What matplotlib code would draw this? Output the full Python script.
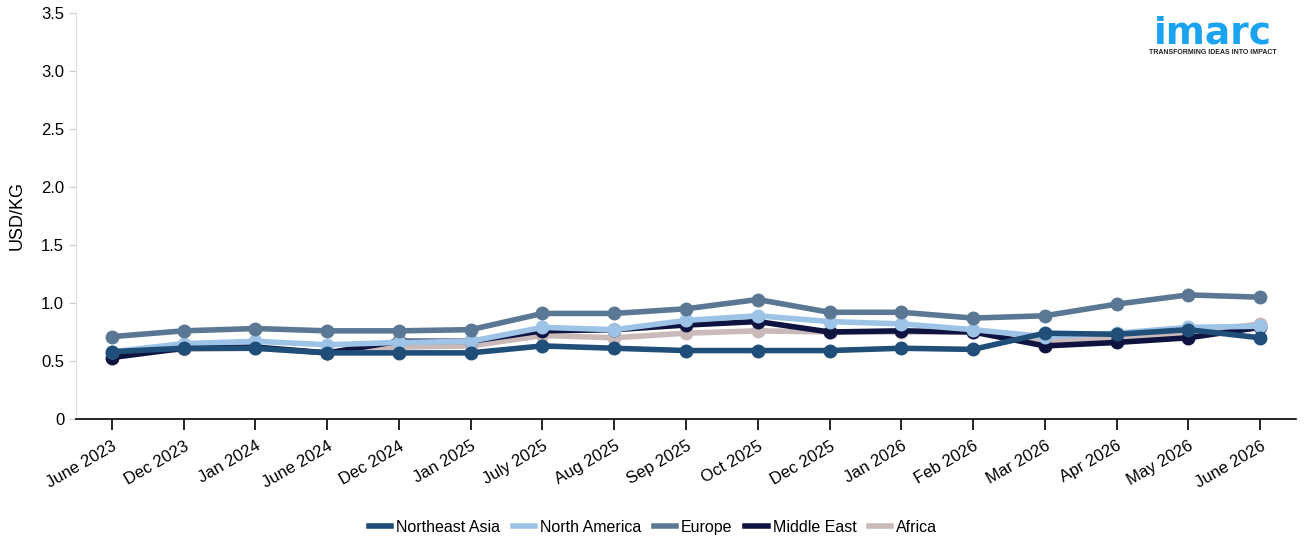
import matplotlib
matplotlib.use("Agg")
import matplotlib.pyplot as plt
import matplotlib.lines as mlines

months = ["June 2023", "Dec 2023", "Jan 2024", "June 2024", "Dec 2024", "Jan 2025",
          "July 2025", "Aug 2025", "Sep 2025", "Oct 2025", "Dec 2025", "Jan 2026",
          "Feb 2026", "Mar 2026", "Apr 2026", "May 2026", "June 2026"]

northeast_asia = [0.58, 0.61, 0.61, 0.57, 0.57, 0.57, 0.63, 0.61, 0.59, 0.59, 0.59, 0.61,
                  0.60, 0.74, 0.73, 0.77, 0.70]
north_america = [0.58, 0.65, 0.67, 0.64, 0.66, 0.67, 0.79, 0.77, 0.85, 0.89, 0.84, 0.82,
                 0.77, 0.71, 0.74, 0.79, 0.80]
europe = [0.71, 0.76, 0.78, 0.76, 0.76, 0.77, 0.91, 0.91, 0.95, 1.03, 0.92, 0.92,
          0.87, 0.89, 0.99, 1.07, 1.05]
middle_east = [0.53, 0.61, 0.62, 0.57, 0.67, 0.67, 0.76, 0.77, 0.81, 0.84, 0.75, 0.76,
               0.75, 0.63, 0.66, 0.70, 0.79]
africa = [0.56, 0.60, 0.61, 0.57, 0.62, 0.63, 0.72, 0.70, 0.74, 0.76, 0.75, 0.75,
          0.75, 0.67, 0.69, 0.74, 0.82]

series = [
    ("Africa", africa, "#c9b9b9"),
    ("Middle East", middle_east, "#0f1340"),
    ("North America", north_america, "#9dc3e6"),
    ("Europe", europe, "#5a7893"),
    ("Northeast Asia", northeast_asia, "#1f4e79"),
]
legend_order = ["Northeast Asia", "North America", "Europe", "Middle East", "Africa"]

plt.rcParams["font.family"] = ["Liberation Sans", "DejaVu Sans"]

fig = plt.figure(figsize=(13.06, 5.49), dpi=100)
ax = fig.add_axes([76 / 1306, 1 - 419 / 549, 1220 / 1306, 406 / 549])

x = list(range(len(months)))
colors = {}
for name, vals, col in series:
    ax.plot(x, vals, color=col, lw=4, marker="o", ms=9, label=name,
            solid_capstyle="round")
    colors[name] = col

ax.set_xlim(-0.5, len(months) - 0.5)
ax.set_ylim(0, 3.5)
ax.set_yticks([0, 0.5, 1.0, 1.5, 2.0, 2.5, 3.0, 3.5])
ax.set_yticklabels(["0", "0.5", "1.0", "1.5", "2.0", "2.5", "3.0", "3.5"])
ax.set_xticks(x)
ax.set_xticklabels(months, rotation=30, ha="right", rotation_mode="anchor")
ax.tick_params(axis="x", length=8, width=1.2, labelsize=12, color="black", pad=6)
ax.tick_params(axis="y", length=5, color="#cccccc", labelsize=12)
ax.set_ylabel("USD/KG", fontsize=13, labelpad=11)

for s in ["top", "right"]:
    ax.spines[s].set_visible(False)
ax.spines["left"].set_color("#dddddd")
ax.spines["bottom"].set_color("black")
ax.spines["bottom"].set_linewidth(1.2)

leg_handles = [mlines.Line2D([], [], color=colors[n], lw=4) for n in legend_order]
fig.legend(leg_handles, legend_order, loc="lower center", ncol=5, frameon=False,
           fontsize=11.5, bbox_to_anchor=(0.5, 0.0), handlelength=1.4, columnspacing=0.8,
           handletextpad=0.3)

# logo
fig.text(1213 / 1306, 1 - 33 / 549, "imarc", color="#1aa3f0", fontsize=27,
         fontweight="bold", ha="center", va="center", family=["DejaVu Sans"])
fig.text(1213 / 1306, 1 - 53 / 549, "TRANSFORMING IDEAS INTO IMPACT", color="#222222",
         fontsize=5, fontweight="bold", ha="center", va="center")

fig.savefig("out.png", dpi=100)
